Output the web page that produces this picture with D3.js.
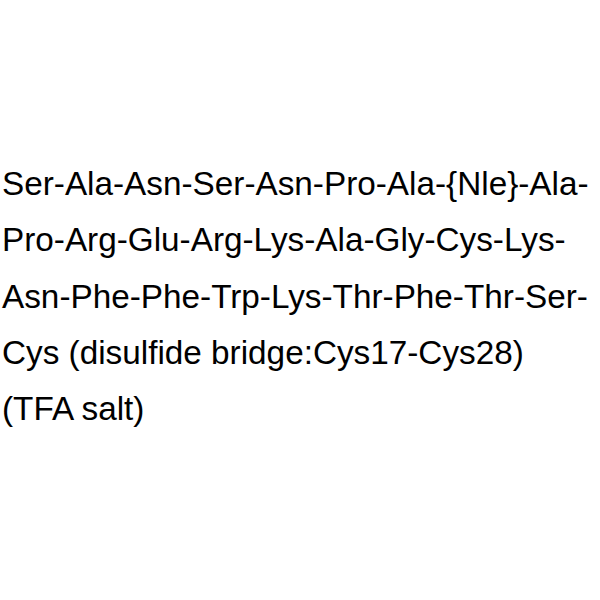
<!DOCTYPE html>
<html lang="en">
<head>
    <meta charset="UTF-8">
    <script src="https://d3js.org/d3.v7.min.js"></script>
    <title>Peptide</title>
    <style>
      body { margin: 0; background: #fff; }
    </style>
</head>
<body>
    <div id="container"></div>
</body>
<script>
    // text lines of the sequence
    var lines = [
        "Ser-Ala-Asn-Ser-Asn-Pro-Ala-{Nle}-Ala-",
        "Pro-Arg-Glu-Arg-Lys-Ala-Gly-Cys-Lys-",
        "Asn-Phe-Phe-Trp-Lys-Thr-Phe-Thr-Ser-",
        "Cys (disulfide bridge:Cys17-Cys28)",
        "(TFA salt)"
    ];
    var width = 600,
        height = 600;

    var svg = d3.select("#container")
                .append("svg")
                .attr("width", width)
                .attr("height", height);

    // one row per line
    var y = d3.scalePoint()
              .domain(d3.range(lines.length))
              .range([195, 420]);

    svg.selectAll("text")
       .data(lines)
       .enter()
       .append("text")
       .attr("x", 2)
       .attr("y", function(d, i){ return y(i); })
       .style("font-family", "'Liberation Sans', Arial, sans-serif")
       .style("font-size", "33.3px")
       .style("fill", "#000")
       .text(function(d){ return d; });
</script>
</html>
